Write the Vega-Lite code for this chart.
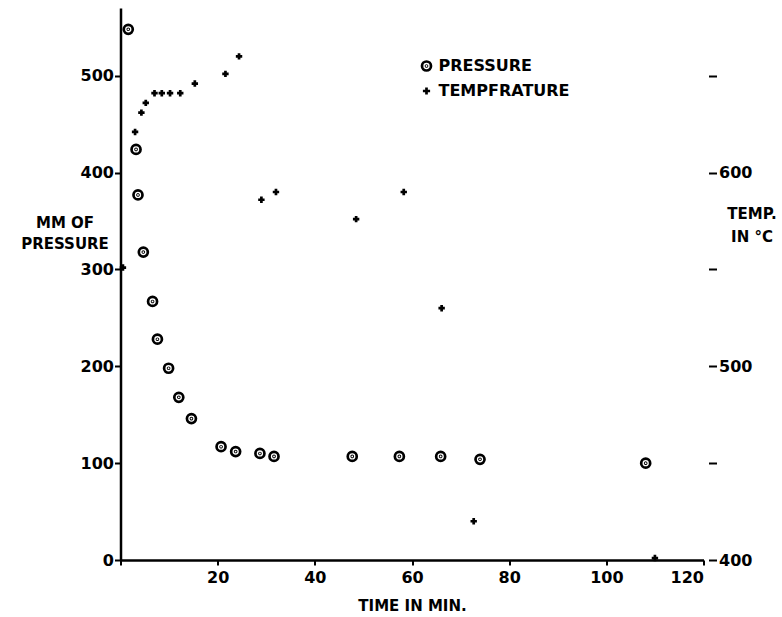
{
  "$schema": "https://vega.github.io/schema/vega-lite/v6.json",
  "width": 583,
  "height": 552,
  "autosize": {"type": "none"},
  "padding": {"left": 120.5, "top": 8, "right": 78.5, "bottom": 57},
  "background": "white",
  "config": {
    "view": {"stroke": null},
    "font": "DejaVu Sans",
    "axis": {
      "grid": false,
      "labelFont": "DejaVu Sans",
      "labelFontWeight": "bold",
      "labelFontSize": 16,
      "labelColor": "black",
      "titleFont": "DejaVu Sans",
      "titleFontWeight": "bold",
      "titleFontSize": 15,
      "titleColor": "black",
      "domainColor": "black",
      "tickColor": "black"
    },
    "legend": {
      "labelFont": "DejaVu Sans",
      "labelFontWeight": "bold",
      "labelFontSize": 16,
      "labelColor": "black"
    }
  },
  "datasets": {
    "pressure": [
      {"time": 1.6, "pressure": 548},
      {"time": 3.2, "pressure": 424},
      {"time": 3.6, "pressure": 377},
      {"time": 4.7, "pressure": 318},
      {"time": 6.6, "pressure": 267},
      {"time": 7.6, "pressure": 228},
      {"time": 9.9, "pressure": 198},
      {"time": 12.0, "pressure": 168},
      {"time": 14.6, "pressure": 146},
      {"time": 20.7, "pressure": 117},
      {"time": 23.7, "pressure": 112},
      {"time": 28.7, "pressure": 110},
      {"time": 31.6, "pressure": 107},
      {"time": 47.7, "pressure": 107},
      {"time": 57.4, "pressure": 107},
      {"time": 65.9, "pressure": 107},
      {"time": 74.0, "pressure": 104},
      {"time": 108.1, "pressure": 100}
    ],
    "temperature": [
      {"time": 0.5, "temp": 551},
      {"time": 3.0, "temp": 621},
      {"time": 4.3, "temp": 631},
      {"time": 5.2, "temp": 636},
      {"time": 7.0, "temp": 641},
      {"time": 8.5, "temp": 641},
      {"time": 10.2, "temp": 641},
      {"time": 12.3, "temp": 641},
      {"time": 15.3, "temp": 646},
      {"time": 21.6, "temp": 651},
      {"time": 24.4, "temp": 660},
      {"time": 29.0, "temp": 586},
      {"time": 32.0, "temp": 590},
      {"time": 48.5, "temp": 576},
      {"time": 58.3, "temp": 590},
      {"time": 66.1, "temp": 530},
      {"time": 72.7, "temp": 420},
      {"time": 110.0, "temp": 401}
    ]
  },
  "layer": [
    {
      "data": {"name": "pressure"},
      "mark": {"type": "point", "filled": false, "stroke": "black", "strokeWidth": 2.7, "size": 81, "opacity": 1},
      "encoding": {
        "x": {
          "field": "time", "type": "quantitative",
          "scale": {"domain": [0, 120], "nice": false},
          "axis": {
            "values": [0, 20, 40, 60, 80, 100, 120],
            "labelExpr": "datum.value == 0 ? '' : datum.label",
            "title": "TIME IN MIN.",
            "domainWidth": 2.5,
            "tickWidth": 2,
            "tickSize": 5,
            "labelPadding": 4,
            "titleY": 45,
            "titleBaseline": "middle"
          }
        },
        "y": {
          "field": "pressure", "type": "quantitative",
          "scale": {"domain": [0, 570], "nice": false},
          "axis": {
            "values": [0, 100, 200, 300, 400, 500],
            "title": ["MM OF", "PRESSURE"],
            "titleAngle": 0,
            "titleAlign": "center",
            "titleBaseline": "middle",
            "titleX": -56,
            "titleY": 214.5,
            "titleLineHeight": 21,
            "domainWidth": 2.5,
            "tickWidth": 2,
            "tickSize": 6,
            "labelPadding": 1
          }
        },
        "shape": {
          "datum": "PRESSURE",
          "type": "nominal",
          "scale": {
            "domain": ["PRESSURE", "TEMPFRATURE"],
            "range": [
              "M-1,0A1,1,0,1,0,1,0A1,1,0,1,0,-1,0ZM-0.1,0A0.1,0.1,0,1,0,0.1,0A0.1,0.1,0,1,0,-0.1,0Z",
              "M-0.8,0L0.8,0M0,-0.8L0,0.8"
            ]
          },
          "legend": {
            "title": null,
            "orient": "none",
            "legendX": 298,
            "legendY": 50,
            "padding": 0,
            "symbolSize": 81,
            "symbolStrokeWidth": 2.7,
            "symbolStrokeColor": "black",
            "symbolFillColor": "transparent",
            "labelOffset": 4,
            "rowPadding": 6
          }
        }
      }
    },
    {
      "data": {"name": "temperature"},
      "mark": {"type": "point", "filled": false, "stroke": "black", "strokeWidth": 2.7, "size": 64, "opacity": 1},
      "encoding": {
        "x": {"field": "time", "type": "quantitative"},
        "y": {
          "field": "temp", "type": "quantitative",
          "scale": {"domain": [400, 685], "nice": false},
          "axis": {
            "orient": "right",
            "values": [400, 450, 500, 550, 600, 650],
            "labelExpr": "datum.value % 100 == 0 ? datum.label : ''",
            "domain": false,
            "offset": 5,
            "tickSize": 8,
            "tickWidth": 2,
            "labelPadding": 2,
            "title": ["TEMP.", "IN °C"],
            "titleAngle": 0,
            "titleAlign": "center",
            "titleBaseline": "middle",
            "titleX": 43,
            "titleY": 205.5,
            "titleLineHeight": 23
          }
        },
        "shape": {"datum": "TEMPFRATURE", "type": "nominal"}
      }
    }
  ],
  "resolve": {"scale": {"y": "independent"}, "axis": {"y": "independent"}}
}
